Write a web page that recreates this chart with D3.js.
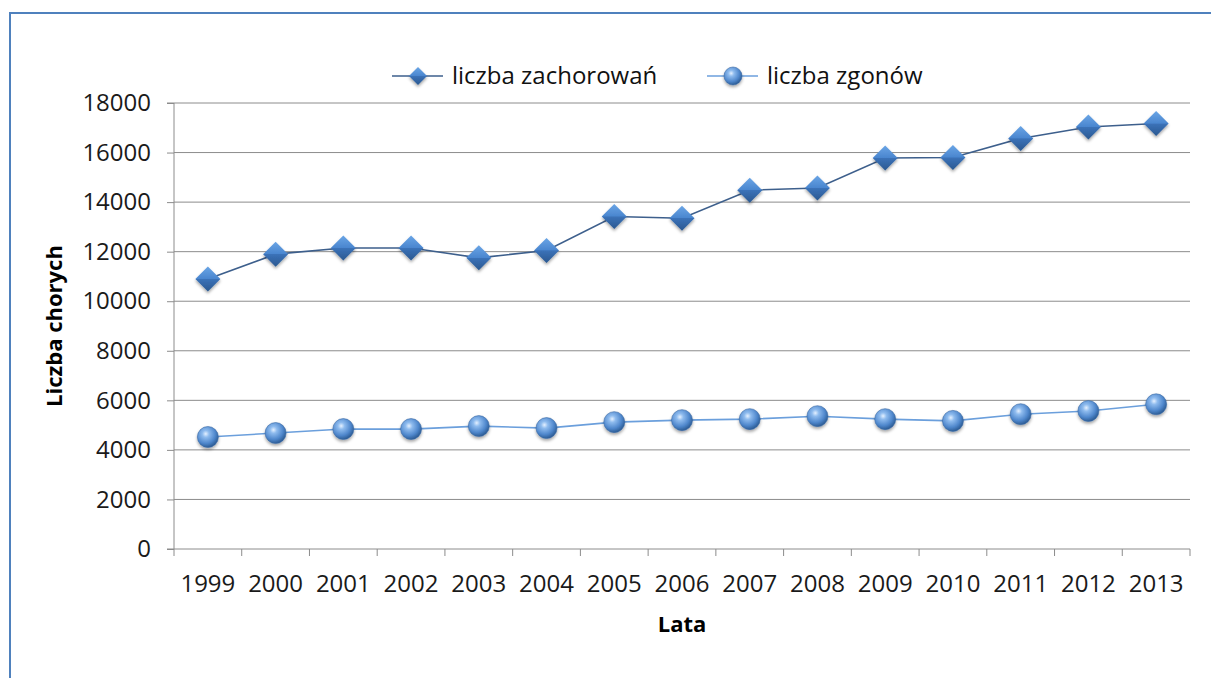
<!DOCTYPE html>
<html>
<head>
<meta charset="utf-8">
<script src="https://cdn.jsdelivr.net/npm/d3@7"></script>
<style>
  body { margin: 0; background: #fff; }
  svg { display: block; font-family: "Open Sans", sans-serif; }
</style>
</head>
<body>
<svg id="chart" width="1211" height="678"></svg>
<script>
// Chart data
const years = ["1999", "2000", "2001", "2002", "2003", "2004", "2005", "2006", "2007", "2008", "2009", "2010", "2011", "2012", "2013"];
const zachorowania = [10900, 11900, 12150, 12150, 11750, 12050, 13420, 13350, 14480, 14570, 15780, 15800, 16570, 17030, 17170];
const zgony = [4520, 4680, 4840, 4840, 4960, 4880, 5120, 5200, 5240, 5360, 5240, 5170, 5440, 5570, 5840];
const yTicks = [0, 2000, 4000, 6000, 8000, 10000, 12000, 14000, 16000, 18000];

const svg = d3.select("#chart");
const plotLeft = 174, plotRight = 1190, plotTop = 103, plotBottom = 549;

// Outer frame (only left and top edges are in view)
svg.append("path")
    .attr("d", "M10,700V13H1215")
    .attr("fill", "none")
    .attr("stroke", "#4f81bd")
    .attr("stroke-width", 2);

const x = d3.scaleBand().domain(years).range([plotLeft, plotRight]);
const y = d3.scaleLinear().domain([0, 18000]).range([plotBottom, plotTop]);

// Gradients and shadow
const defs = svg.append("defs");
const dg = defs.append("linearGradient").attr("id", "diamondGrad")
    .attr("x1", 0).attr("y1", 0).attr("x2", 0).attr("y2", 1);
dg.append("stop").attr("offset", "0%").attr("stop-color", "#6aa5e6");
dg.append("stop").attr("offset", "49%").attr("stop-color", "#4a86cf");
dg.append("stop").attr("offset", "51%").attr("stop-color", "#3b72b8");
dg.append("stop").attr("offset", "100%").attr("stop-color", "#2a5890");

const sg = defs.append("radialGradient").attr("id", "sphereGrad")
    .attr("cx", "40%").attr("cy", "35%").attr("r", "65%");
sg.append("stop").attr("offset", "0%").attr("stop-color", "#e4f0ff");
sg.append("stop").attr("offset", "25%").attr("stop-color", "#8ebbee");
sg.append("stop").attr("offset", "70%").attr("stop-color", "#4f87cc");
sg.append("stop").attr("offset", "100%").attr("stop-color", "#2d5d96");

const shadow = defs.append("filter").attr("id", "shadow")
    .attr("x", "-50%").attr("y", "-50%").attr("width", "200%").attr("height", "200%");
shadow.append("feDropShadow").attr("dx", 0).attr("dy", 2).attr("stdDeviation", 1.5)
    .attr("flood-color", "#000").attr("flood-opacity", 0.35);

// Grid lines
svg.append("g").selectAll("line")
    .data(yTicks.filter(d => d > 0))
    .enter().append("line")
    .attr("x1", plotLeft).attr("x2", plotRight)
    .attr("y1", d => y(d)).attr("y2", d => y(d))
    .attr("stroke", "#8c8c8c").attr("stroke-width", 1);

// Y axis
const yAxis = svg.append("g")
    .attr("transform", `translate(${plotLeft},0)`)
    .call(d3.axisLeft(y).tickValues(yTicks).tickSize(7).tickPadding(16).tickFormat(d3.format("d")));
yAxis.selectAll("line, path").attr("stroke", "#8c8c8c");
yAxis.select(".domain").attr("d", `M-7,${plotBottom}H0V${plotTop}H-7`);
yAxis.selectAll("text").attr("font-size", 24).attr("fill", "#1a1a1a").attr("font-family", "Open Sans");

// X axis with ticks between categories
const xAxis = svg.append("g")
    .attr("transform", `translate(0,${plotBottom})`);
xAxis.append("line").attr("x1", plotLeft).attr("x2", plotRight).attr("stroke", "#8c8c8c");
xAxis.selectAll(".tick").data(years.concat(["end"]))
    .enter().append("line")
    .attr("x1", (d, i) => i < years.length ? x(d) : plotRight)
    .attr("x2", (d, i) => i < years.length ? x(d) : plotRight)
    .attr("y1", 0).attr("y2", 7)
    .attr("stroke", "#8c8c8c");
xAxis.selectAll("text").data(years)
    .enter().append("text")
    .attr("x", d => x(d) + x.bandwidth() / 2)
    .attr("y", 43)
    .attr("text-anchor", "middle")
    .attr("font-size", 24)
    .attr("fill", "#1a1a1a")
    .text(d => d);

// Axis titles
svg.append("text")
    .attr("transform", "translate(62,326) rotate(-90)")
    .attr("text-anchor", "middle")
    .attr("font-size", 22).attr("font-weight", "bold").attr("fill", "#000")
    .text("Liczba chorych");
svg.append("text")
    .attr("x", 682).attr("y", 632)
    .attr("text-anchor", "middle")
    .attr("font-size", 22).attr("font-weight", "bold").attr("fill", "#000")
    .text("Lata");

const cx = d => x(d) + x.bandwidth() / 2;

// Series lines
svg.append("path")
    .datum(zachorowania)
    .attr("fill", "none").attr("stroke", "#3d5f8c").attr("stroke-width", 1.6)
    .attr("d", d3.line().x((d, i) => cx(years[i])).y(d => y(d)));
svg.append("path")
    .datum(zgony)
    .attr("fill", "none").attr("stroke", "#6b9fdc").attr("stroke-width", 1.6)
    .attr("d", d3.line().x((d, i) => cx(years[i])).y(d => y(d)));

function diamond(g, s) {
    g.append("path")
        .attr("d", `M0,${-s}L${s},0L0,${s}L${-s},0Z`)
        .attr("fill", "url(#diamondGrad)")
        .attr("filter", "url(#shadow)");
}
function sphere(g, r) {
    g.append("circle").attr("r", r)
        .attr("fill", "url(#sphereGrad)")
        .attr("stroke", "#3a6aa5").attr("stroke-width", 0.6)
        .attr("filter", "url(#shadow)");
}

// Markers
svg.append("g").selectAll("g")
    .data(zachorowania).enter().append("g")
    .attr("transform", (d, i) => `translate(${cx(years[i])},${y(d)})`)
    .each(function() { diamond(d3.select(this), 12.5); });
svg.append("g").selectAll("g")
    .data(zgony).enter().append("g")
    .attr("transform", (d, i) => `translate(${cx(years[i])},${y(d)})`)
    .each(function() { sphere(d3.select(this), 10.5); });

// Legend
const legend = svg.append("g").attr("transform", "translate(0,76)");
legend.append("line").attr("x1", 392).attr("x2", 443).attr("stroke", "#3d5f8c").attr("stroke-width", 1.6);
diamond(legend.append("g").attr("transform", "translate(418,0)"), 9);
legend.append("text").attr("x", 452).attr("y", 8).attr("font-size", 24).attr("fill", "#111").text("liczba zachorowań");
legend.append("line").attr("x1", 707).attr("x2", 758).attr("stroke", "#6b9fdc").attr("stroke-width", 1.6);
sphere(legend.append("g").attr("transform", "translate(733,0)"), 9);
legend.append("text").attr("x", 767).attr("y", 8).attr("font-size", 24).attr("fill", "#111").text("liczba zgonów");
</script>
</body>
</html>
